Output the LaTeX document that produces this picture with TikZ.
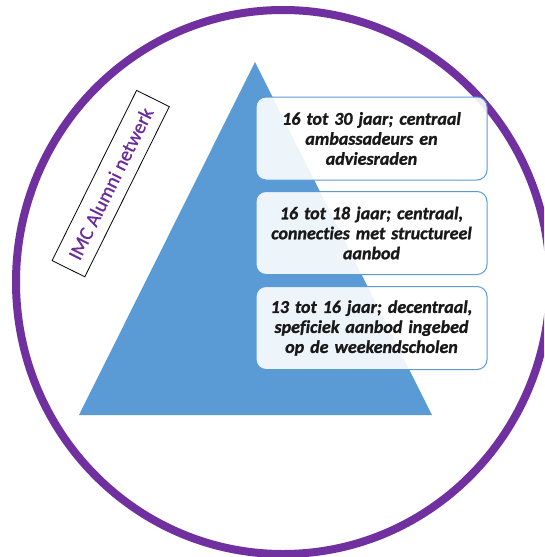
\documentclass[tikz,border=0pt]{standalone}
\usepackage{fontspec}
\setmainfont{Carlito}[Ligatures={NoCommon}]
\newfontfamily\tierfont{Carlito}[Ligatures={NoCommon}, BoldItalicFeatures={FakeBold=1.2}]
\newfontfamily\tagfont{Carlito}[Ligatures={NoCommon}, FakeBold=0.6]
\definecolor{ringpurple}{HTML}{7030A0}
\definecolor{tagpurple}{HTML}{6A2A9C}
\definecolor{pyrblue}{HTML}{5B9BD5}
\tikzset{
  tier/.style={draw=pyrblue, line width=1pt, fill=white, fill opacity=0.9, text opacity=1,
    rounded corners=10pt, minimum width=231pt, minimum height=83pt, text width=225pt,
    align=center, inner sep=0pt, text=black!90, font=\tierfont\fontsize{18}{20}\selectfont\bfseries\itshape},
  tag/.style={draw=black, line width=0.8pt, rotate=63.6, minimum width=190pt, minimum height=36.5pt,
    inner sep=0pt, text=tagpurple, font=\tagfont\fontsize{20}{24}\selectfont}
}
\begin{document}
\begin{tikzpicture}[x=1pt,y=-1pt]
\useasboundingbox (0,0) rectangle (544,557);
\clip (0,0) rectangle (544,557);
\fill[white] (0,0) rectangle (544,557);
% ring
\draw[ringpurple, line width=8pt] (283,282) ellipse [x radius=267, y radius=272];
% pyramid
\fill[pyrblue] (255,62) -- (432,415) -- (79,415) -- cycle;
% tiers
\node[tier] (t1) at (371.5,138.5) {16 tot 30 jaar; centraal\\ambassadeurs en\\adviesraden};
\node[tier] (t2) at (371.5,233) {16 tot 18 jaar; centraal,\\connecties met structureel\\aanbod};
\node[tier] (t3) at (371.5,328) {13 tot 16 jaar; decentraal,\\speficiek aanbod ingebed\\op de weekendscholen};
% label
\node[tag] (lbl) at (110.7,183.6) {IMC Alumni netwerk};
\end{tikzpicture}
\end{document}
